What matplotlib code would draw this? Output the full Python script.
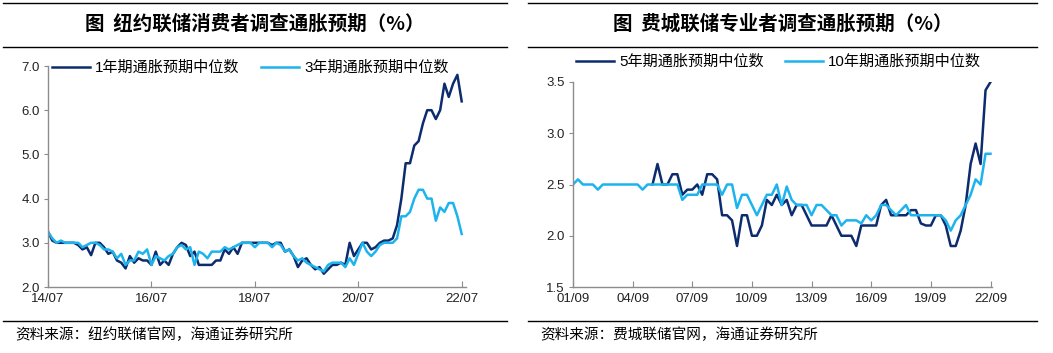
import matplotlib
matplotlib.use("Agg")
import matplotlib.pyplot as plt
from matplotlib.lines import Line2D

plt.rcParams['font.family'] = ['Liberation Sans', 'Noto Sans CJK SC', 'DejaVu Sans']

# NY Fed SCE, monthly 2014-07 .. 2022-07
ny_1y = [3.25, 3.05, 3.0, 3.0, 3.0, 3.0, 3.0, 2.95, 2.85, 2.9, 2.72, 3.0,
         3.0, 2.9, 2.75, 2.8, 2.6, 2.55, 2.42, 2.7, 2.55, 2.65, 2.6, 2.6,
         2.5, 2.8, 2.5, 2.6, 2.5, 2.75, 2.9, 3.0, 2.95, 2.7, 2.8, 2.5,
         2.5, 2.5, 2.5, 2.6, 2.6, 2.85, 2.75, 2.9, 2.75, 3.0, 3.0, 3.0,
         3.0, 3.0, 3.0, 3.0, 2.95, 3.0, 3.0, 2.8, 2.85, 2.7, 2.45, 2.6,
         2.65, 2.5, 2.4, 2.45, 2.3, 2.4, 2.5, 2.5, 2.55, 2.5, 3.0, 2.7,
         2.85, 3.0, 3.0, 2.85, 2.9, 3.0, 3.05, 3.05, 3.1, 3.4, 4.0, 4.8,
         4.8, 5.2, 5.3, 5.7, 6.0, 6.0, 5.8, 6.0, 6.6, 6.3, 6.6, 6.8, 6.2]
ny_3y = [3.25, 3.1, 3.0, 3.05, 3.0, 3.0, 3.0, 3.0, 2.9, 2.95, 3.0, 3.0,
         2.95, 2.85, 2.85, 2.8, 2.65, 2.75, 2.5, 2.6, 2.6, 2.8, 2.75, 2.85,
         2.5, 2.7, 2.65, 2.6, 2.7, 2.75, 2.9, 2.95, 2.85, 2.9, 2.5, 2.8,
         2.75, 2.65, 2.8, 2.8, 2.8, 2.9, 2.85, 2.9, 2.95, 3.0, 3.0, 3.0,
         2.9, 3.0, 3.0, 3.0, 2.9, 3.0, 2.95, 2.8, 2.85, 2.7, 2.6, 2.65,
         2.55, 2.5, 2.45, 2.4, 2.35, 2.5, 2.55, 2.55, 2.55, 2.45, 2.65, 2.5,
         2.75, 3.0, 2.8, 2.7, 2.8, 2.95, 3.0, 3.0, 3.0, 3.1, 3.6, 3.6,
         3.7, 4.0, 4.2, 4.2, 4.0, 4.0, 3.5, 3.8, 3.7, 3.9, 3.9, 3.6, 3.2]
ny_xticks = [0, 24, 48, 72, 96]
ny_xlabels = ['14/07', '16/07', '18/07', '20/07', '22/07']

# Philadelphia Fed SPF, quarterly 2001Q3 .. 2022Q3 (5y starts 2005Q3)
spf_10y = [2.5, 2.55, 2.5, 2.5, 2.5, 2.45, 2.5, 2.5, 2.5, 2.5, 2.5, 2.5,
           2.5, 2.5, 2.45, 2.5, 2.5, 2.5, 2.5, 2.5, 2.5, 2.5, 2.35, 2.4,
           2.4, 2.4, 2.5, 2.5, 2.5, 2.5, 2.4, 2.5, 2.5, 2.27, 2.4, 2.4,
           2.3, 2.2, 2.3, 2.4, 2.4, 2.5, 2.3, 2.48, 2.35, 2.3, 2.3, 2.3,
           2.2, 2.3, 2.3, 2.25, 2.2, 2.2, 2.1, 2.15, 2.15, 2.15, 2.12, 2.2,
           2.15, 2.2, 2.3, 2.3, 2.25, 2.2, 2.25, 2.3, 2.2, 2.2, 2.2, 2.2,
           2.2, 2.2, 2.2, 2.15, 2.05, 2.15, 2.2, 2.3, 2.4, 2.55, 2.5, 2.8, 2.8]
spf_5y_start = 16
spf_5y = [2.5, 2.7, 2.5, 2.5, 2.6, 2.6, 2.4, 2.45, 2.45, 2.5, 2.4, 2.6,
          2.6, 2.55, 2.2, 2.2, 2.15, 1.9, 2.2, 2.2, 2.0, 2.0, 2.1, 2.35,
          2.3, 2.4, 2.3, 2.35, 2.2, 2.3, 2.3, 2.2, 2.1, 2.1, 2.1, 2.1,
          2.2, 2.1, 2.0, 2.0, 2.0, 1.9, 2.1, 2.1, 2.1, 2.1, 2.3, 2.35,
          2.2, 2.2, 2.2, 2.2, 2.25, 2.25, 2.12, 2.1, 2.1, 2.2, 2.2, 2.1,
          1.9, 1.9, 2.05, 2.3, 2.7, 2.9, 2.7, 3.42, 3.5]
spf_xticks = [0, 12, 24, 36, 48, 60, 72, 84]
spf_xlabels = ['01/09', '04/09', '07/09', '10/09', '13/09', '16/09', '19/09', '22/09']

navy = '#0C2C6E'
light = '#1DB4EE'
W, H = 1053, 353

fig = plt.figure(figsize=(W / 100, H / 100), dpi=100)


def fx(px):
    return px / W


def fy(py):
    return 1 - py / H


def style_axes(ax):
    for s in ['top', 'right']:
        ax.spines[s].set_visible(False)
    for s in ['left', 'bottom']:
        ax.spines[s].set_color('#8c8c8c')
        ax.spines[s].set_linewidth(1.0)
    ax.tick_params(axis='x', direction='in', length=4, color='#8c8c8c',
                   labelsize=9.5, labelcolor='#222222', pad=4)
    ax.tick_params(axis='y', direction='out', length=3, color='#8c8c8c',
                   labelsize=9.5, labelcolor='#222222', pad=3)


def frame_lines(x0, x1, title, source):
    for y in (3, 47, 321):
        fig.add_artist(Line2D([fx(x0), fx(x1)], [fy(y), fy(y)], color='black', lw=1.0))
    fig.text(fx((x0 + x1) / 2), fy(24), title, ha='center', va='center',
             fontsize=14, fontweight='bold', family=['Noto Sans CJK SC'])
    fig.text(fx(x0 + 12), fy(335), source, ha='left', va='center',
             fontsize=10.5, family=['Noto Sans CJK SC'])


# left panel
ax1 = fig.add_axes([fx(48), fy(287), fx(418), (287 - 66) / H])
l1, = ax1.plot(range(len(ny_1y)), ny_1y, color=navy, lw=1.8, solid_joinstyle='round')
l2, = ax1.plot(range(len(ny_3y)), ny_3y, color=light, lw=1.8, solid_joinstyle='round')
ax1.set_xlim(0, 97)
ax1.set_ylim(2.0, 7.0)
ax1.set_yticks([2, 3, 4, 5, 6, 7])
ax1.set_yticklabels(['2.0', '3.0', '4.0', '5.0', '6.0', '7.0'])
ax1.set_xticks(ny_xticks)
ax1.set_xticklabels(ny_xlabels)
style_axes(ax1)
fig.legend([l1, l2], ['1年期通胀预期中位数', '3年期通胀预期中位数'],
           loc='center left', bbox_to_anchor=(fx(52), fy(68)), ncol=2,
           frameon=False, fontsize=10.9, handlelength=2.5, handletextpad=0.35,
           columnspacing=1.4, borderpad=0, borderaxespad=0)
frame_lines(3, 507, '图  纽约联储消费者调查通胀预期（%）', '资料来源：纽约联储官网，海通证券研究所')

# right panel
ax2 = fig.add_axes([fx(573), fy(287), fx(419), (287 - 82) / H])
q5 = range(spf_5y_start, spf_5y_start + len(spf_5y))
r1, = ax2.plot(q5, spf_5y, color=navy, lw=1.8, solid_joinstyle='round')
r2, = ax2.plot(range(len(spf_10y)), spf_10y, color=light, lw=1.8, solid_joinstyle='round')
ax2.set_xlim(0, 84.3)
ax2.set_ylim(1.5, 3.5)
ax2.set_yticks([1.5, 2.0, 2.5, 3.0, 3.5])
ax2.set_yticklabels(['1.5', '2.0', '2.5', '3.0', '3.5'])
ax2.set_xticks(spf_xticks)
ax2.set_xticklabels(spf_xlabels)
style_axes(ax2)
fig.legend([r1, r2], ['5年期通胀预期中位数', '10年期通胀预期中位数'],
           loc='center left', bbox_to_anchor=(fx(576), fy(62)), ncol=2,
           frameon=False, fontsize=10.9, handlelength=2.5, handletextpad=0.35,
           columnspacing=1.4, borderpad=0, borderaxespad=0)
frame_lines(528, 1037, '图  费城联储专业者调查通胀预期（%）', '资料来源：费城联储官网，海通证券研究所')

fig.savefig('out.png', dpi=100)
